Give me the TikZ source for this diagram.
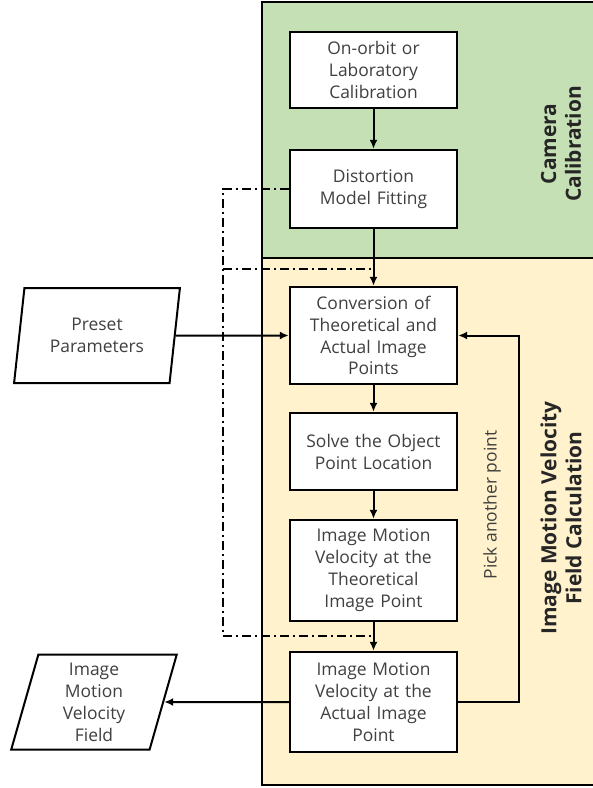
\documentclass[tikz,border=0pt]{standalone}
\usepackage{fontspec}
\setmainfont{Open Sans}
\usetikzlibrary{arrows.meta,shapes.geometric}
\definecolor{calibgreen}{HTML}{C5E0B4}
\definecolor{velyellow}{HTML}{FFF2CC}
\definecolor{boxtext}{HTML}{404040}
\begin{document}
\begin{tikzpicture}[x=1bp,y=-1bp,
    procbox/.style={draw,line width=2.4bp,fill=white,minimum width=167bp,text width=160bp,align=center,inner sep=0,text=boxtext,font=\fontsize{17.5}{22}\selectfont},
    iobox/.style={draw,line width=2bp,fill=white,trapezium,trapezium left angle=79,trapezium right angle=101,trapezium stretches=true,minimum width=166bp,minimum height=95bp,align=center,inner sep=0,text=boxtext,font=\fontsize{17.5}{22}\selectfont},
    flowarrow/.style={line width=2bp,-{Latex[length=9bp,width=8bp]}},
    dashdot/.style={line width=2bp,dash pattern=on 9bp off 4bp on 2bp off 4bp},
    panel/.style={draw,line width=2.4bp},
    paneltitle/.style={rotate=90,align=center,font=\fontsize{21}{25}\selectfont\bfseries,text=black!85}]
    \useasboundingbox (0,0) rectangle (593,788);
    % panels
    \draw[panel,fill=calibgreen] (262,2) rectangle (600,258);
    \draw[panel,fill=velyellow] (262,258) rectangle (600,785);
    \node[paneltitle] (calibtitle) at (561,144) {Camera\\Calibration};
    \node[paneltitle] (veltitle) at (561,518) {Image Motion Velocity\\Field Calculation};
    % process boxes
    \node[procbox,minimum height=76bp] (orbit) at (373.5,70) {On-orbit or\\Laboratory\\Calibration};
    \node[procbox,minimum height=78bp] (distort) at (373.5,189) {Distortion\\Model Fitting};
    \node[procbox,minimum height=97bp] (convert) at (373.5,335.5) {Conversion of\\Theoretical and\\Actual Image\\Points};
    \node[procbox,minimum height=77bp] (solve) at (373.5,451.5) {Solve the Object\\Point Location};
    \node[procbox,minimum height=101bp] (theovel) at (373.5,570.5) {Image Motion\\Velocity at the\\Theoretical\\Image Point};
    \node[procbox,minimum height=100bp] (actvel) at (373.5,702) {Image Motion\\Velocity at the\\Actual Image\\Point};
    % input / output
    \node[iobox] (preset) at (97,335.5) {Preset\\Parameters};
    \node[iobox] (velfield) at (94,702) {Image\\Motion\\Velocity\\Field};
    % dash-dot links from the distortion model
    \coordinate (ddcorner) at (223,189);
    \coordinate (ddupper) at (223,269);
    \coordinate (ddlower) at (223,636);
    \draw[dashdot] (distort.west) -- (ddcorner) -- (ddlower) -- (ddlower -| actvel.north);
    \draw[dashdot] (ddupper) -- (ddupper -| convert.north);
    % main flow
    \draw[flowarrow] (orbit) -- (distort);
    \draw[flowarrow] (distort) -- (convert);
    \draw[flowarrow] (convert) -- (solve);
    \draw[flowarrow] (solve) -- (theovel);
    \draw[flowarrow] (theovel) -- (actvel);
    \draw[flowarrow] (preset.east) -- (convert.west);
    \draw[flowarrow] (actvel.west) -- (velfield.east);
    % loop back
    \coordinate (loopright) at (519,702);
    \draw[flowarrow] (actvel.east) -- (loopright) |- (convert.east);
    \node[rotate=90,text=boxtext,font=\fontsize{17.5}{22}\selectfont] (pickpt) at (492,505) {Pick another point};
\end{tikzpicture}
\end{document}
